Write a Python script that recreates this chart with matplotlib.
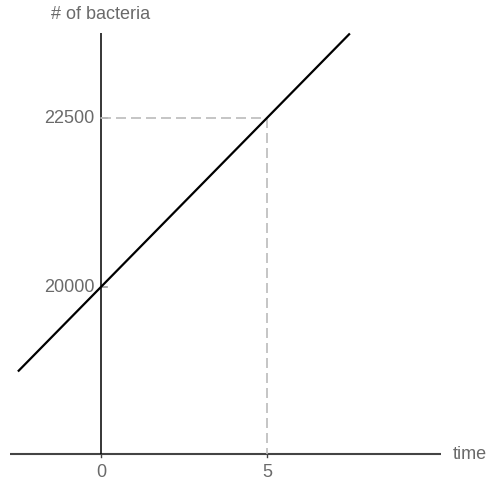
import matplotlib
matplotlib.use('Agg')
import matplotlib.pyplot as plt

# growth line endpoints (time, bacteria)
line_t = [-2.5, 7.5]
line_n = [18750, 23750]

# highlighted reading
mark_t = 5
mark_n = 22500

xticks = [0, 5]
yticks = [20000, 22500]

x_axis_span = (-2.75, 10.25)
y_axis_span = (17530, 23750)

plt.rcParams['font.family'] = ['Liberation Sans', 'DejaVu Sans']

fig = plt.figure(figsize=(4.89, 4.81), dpi=100)
ax = fig.add_axes([0, 0, 1, 1])
ax.set_xlim(-3.04, 11.69)
ax.set_ylim(17145, 24260)
ax.axis('off')

# axes drawn as plain lines
ax.plot(x_axis_span, [y_axis_span[0]] * 2, color='#444444', lw=1.5,
        solid_capstyle='butt')
ax.plot([0, 0], y_axis_span, color='black', lw=1.1, solid_capstyle='butt')

# ticks
for t in xticks:
    ax.plot([t, t], [y_axis_span[0], y_axis_span[0] - 45], color='#444444', lw=1)
    ax.text(t, y_axis_span[0] - 130, str(t), ha='center', va='top',
            fontsize=13, color='#6a6a6a')
for n in yticks:
    ax.plot([0, 0.17], [n, n], color='#999999', lw=1.2)
    ax.text(-0.2, n, str(n), ha='right', va='center',
            fontsize=13, color='#6a6a6a')

# guide lines to the marked point
ax.plot([0, mark_t], [mark_n, mark_n], color='#bbbbbb', lw=1.2,
        dashes=(6, 3))
ax.plot([mark_t, mark_t], [mark_n, y_axis_span[0]], color='#bbbbbb', lw=1.2,
        dashes=(6, 3))

# growth line
ax.plot(line_t, line_n, color='black', lw=1.6, solid_capstyle='butt')

ax.text(0, 24040, '# of bacteria', ha='center', va='center',
        fontsize=13, color='#6a6a6a')
ax.text(10.6, y_axis_span[0], 'time', ha='left', va='center',
        fontsize=13, color='#6a6a6a')

fig.savefig('out.png', dpi=100, facecolor='white')
